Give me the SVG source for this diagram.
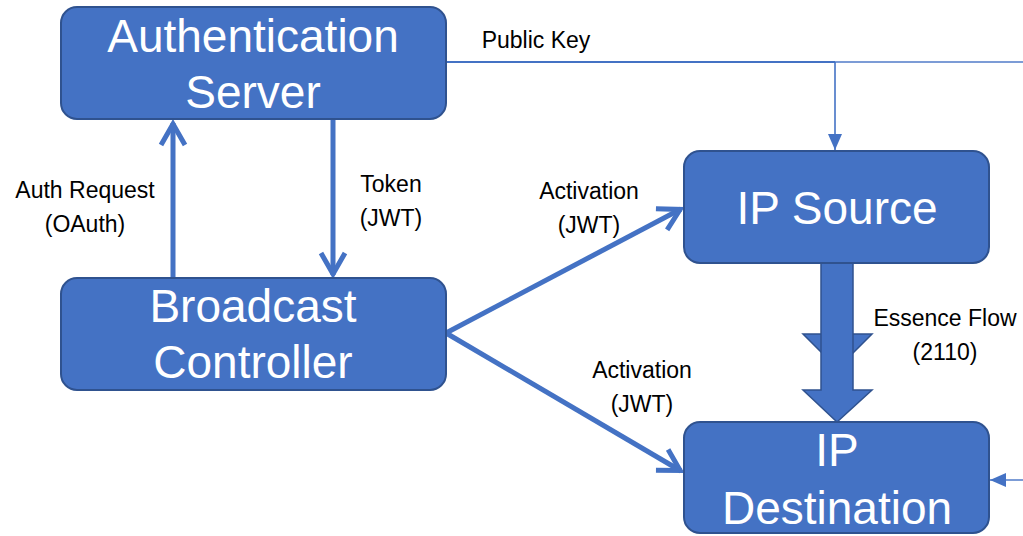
<svg xmlns="http://www.w3.org/2000/svg" width="1023" height="536" viewBox="0 0 1023 536">
<style>
.box{fill:#4472C4;stroke:#2F528F;stroke-width:2}
.bt{fill:#FFFFFF;font-family:"Liberation Sans",Arial,sans-serif;font-size:46px;text-anchor:middle}
.lb{fill:#000000;font-family:"Liberation Sans",Arial,sans-serif;font-size:23px;text-anchor:middle}
.thick{stroke:#4472C4;stroke-width:5;fill:none}
.thin{stroke:#4472C4;stroke-width:2;fill:none}
</style>
<defs>
<marker id="chev" markerUnits="userSpaceOnUse" viewBox="-4 -16 30 32" markerWidth="30" markerHeight="32" refX="22" refY="0" orient="auto">
<path d="M0,-12 L21,0 L0,12" fill="none" stroke="#4472C4" stroke-width="5" stroke-linejoin="miter"/>
</marker>
<marker id="tri" markerUnits="userSpaceOnUse" viewBox="0 -8 16 16" markerWidth="16" markerHeight="16" refX="16" refY="0" orient="auto">
<path d="M0,-7 L16,0 L0,7 Z" fill="#4472C4"/>
</marker>
</defs>
<g id="connectors">
<path class="thin" d="M446,62 H835"/>
<path class="thin" d="M835,62 H1023" stroke-opacity="0.7"/>
<path class="thin" d="M835,62 V150" stroke-opacity="0.8" marker-end="url(#tri)"/>
<path class="thin" d="M1023,480 H990" stroke-opacity="0.7" marker-end="url(#tri)"/>
<path class="thick" d="M173,278 V123" marker-end="url(#chev)"/>
<path class="thick" d="M333,119 V275" marker-end="url(#chev)"/>
<path class="thick" d="M446,333 L681,209" marker-end="url(#chev)"/>
<path class="thick" d="M446,333 L681,471" marker-end="url(#chev)"/>
<g id="essence-flow">
<path d="M803,334 H872 L837.5,368.5 Z" fill="#4472C4" stroke="#2F528F" stroke-width="1.5"/>
<path d="M821,263 H853 V390 H872 L837,422 L803,390 H821 Z" fill="#4472C4" stroke="#2F528F" stroke-width="1.5"/>
</g>
</g>
<g id="auth-server">
<rect class="box" x="61" y="7" width="385" height="112" rx="16"/>
<text class="bt" x="253" y="52">Authentication</text>
<text class="bt" x="253" y="108">Server</text>
</g>
<g id="broadcast-controller">
<rect class="box" x="61" y="278" width="385" height="112" rx="16"/>
<text class="bt" x="253" y="322">Broadcast</text>
<text class="bt" x="253" y="378">Controller</text>
</g>
<g id="ip-source">
<rect class="box" x="684" y="151" width="305" height="112" rx="16"/>
<text class="bt" x="837" y="224">IP Source</text>
</g>
<g id="ip-destination">
<rect class="box" x="684" y="422" width="305" height="111" rx="16"/>
<text class="bt" x="837" y="466">IP</text>
<text class="bt" x="837" y="524">Destination</text>
</g>
<g id="labels">
<text class="lb" x="536" y="48">Public Key</text>
<text class="lb" x="85" y="198">Auth Request</text>
<text class="lb" x="85" y="232">(OAuth)</text>
<text class="lb" x="391" y="192">Token</text>
<text class="lb" x="391" y="226">(JWT)</text>
<text class="lb" x="589" y="199">Activation</text>
<text class="lb" x="589" y="233">(JWT)</text>
<text class="lb" x="642" y="378">Activation</text>
<text class="lb" x="642" y="412">(JWT)</text>
<text class="lb" x="945" y="326">Essence Flow</text>
<text class="lb" x="945" y="360">(2110)</text>
</g>
</svg>
